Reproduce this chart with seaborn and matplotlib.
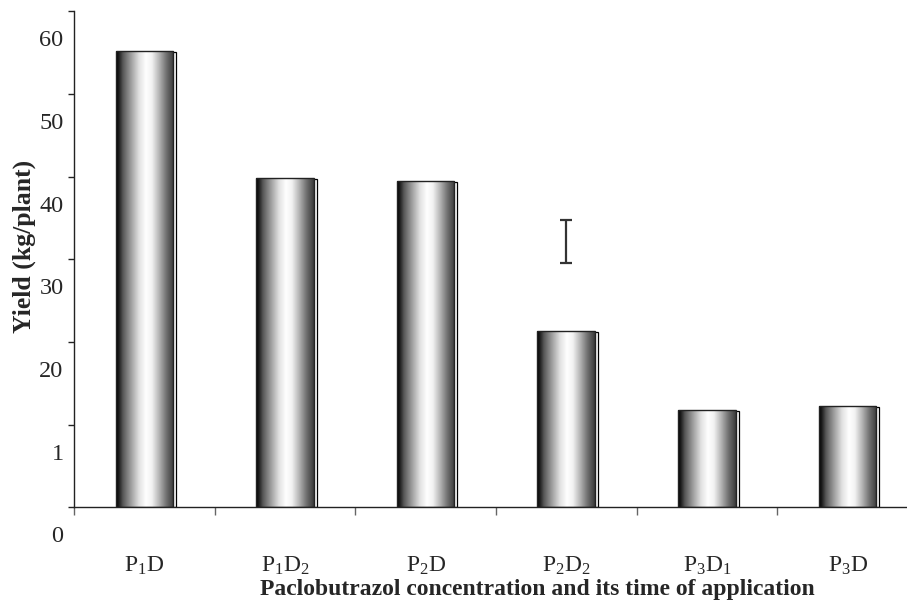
import numpy as np
import pandas as pd
import seaborn as sns
import matplotlib
matplotlib.use("Agg")
import matplotlib.pyplot as plt
from matplotlib.colors import LinearSegmentedColormap
from matplotlib.patches import Rectangle
from matplotlib.transforms import ScaledTranslation

# ---- data ----
categories = [r"P$_{\mathrm{1}}$D", r"P$_{\mathrm{1}}$D$_{\mathrm{2}}$", r"P$_{\mathrm{2}}$D",
              r"P$_{\mathrm{2}}$D$_{\mathrm{2}}$", r"P$_{\mathrm{3}}$D$_{\mathrm{1}}$", r"P$_{\mathrm{3}}$D"]
yield_values = [55.2, 39.9, 39.5, 21.4, 11.8, 12.3]
ytick_values = [0, 10, 20, 30, 40, 50, 60]
ytick_labels = ["0", "1", "20", "30", "40", "50", "60"]
lsd_category = 3          # index of category where the LSD bar is drawn
lsd_low, lsd_high = 29.6, 34.8

sns.set_theme(style="white")
plt.rcParams["font.family"] = ["Liberation Serif", "DejaVu Serif"]
plt.rcParams["mathtext.fontset"] = "custom"
plt.rcParams["mathtext.rm"] = "Liberation Serif"
plt.rcParams["mathtext.it"] = "Liberation Serif:italic"
plt.rcParams["mathtext.bf"] = "Liberation Serif:bold"

fig = plt.figure(figsize=(9.07, 6.11), dpi=100)
ax = fig.add_axes([0.0816, 0.1694, 0.9305, 0.8121])

df = pd.DataFrame({"cat": list(range(len(categories))), "y": yield_values})
sns.barplot(data=df, x="cat", y="y", ax=ax, width=0.41, color="white",
            order=list(range(len(categories))))

cmap = LinearSegmentedColormap.from_list("cyl", [
    (0.0, "#000000"), (0.05, "#1e1e1e"), (0.12, "#585858"), (0.25, "#9a9a9a"),
    (0.40, "#e2e2e2"), (0.52, "#ffffff"), (0.62, "#f2f2f2"), (0.75, "#b2b2b2"),
    (0.88, "#6c6c6c"), (1.0, "#3a3a3a")])
grad = np.linspace(0, 1, 256).reshape(1, -1)

for p in list(ax.patches):
    x0, w, h = p.get_x(), p.get_width(), p.get_height()
    dx = 0.021
    dy = 0.12
    sh = Rectangle((x0 + dx, 0), w, h - dy, facecolor="white", edgecolor="black",
                   linewidth=0.9, zorder=1)
    ax.add_patch(sh)
    im = ax.imshow(grad, cmap=cmap, extent=(x0, x0 + w, 0, h), aspect="auto",
                   zorder=2, interpolation="bilinear")
    im.set_clip_path(p)
    p.set_facecolor("none")
    p.set_edgecolor("#222222")
    p.set_linewidth(1.0)
    p.set_zorder(3)

ax.set_ylim(0, 60)
ax.set_xlim(-0.5, len(categories) - 0.5)

# LSD bar
ax.errorbar([lsd_category], [(lsd_low + lsd_high) / 2], yerr=[(lsd_high - lsd_low) / 2],
            fmt="none", ecolor="#333333", elinewidth=1.6, capsize=4.5, capthick=1.6, zorder=4)

# spines
for s in ["top", "right"]:
    ax.spines[s].set_visible(False)
for s in ["left", "bottom"]:
    ax.spines[s].set_color("#222222")
    ax.spines[s].set_linewidth(1.0)

# y ticks with labels shifted down
ax.set_yticks(ytick_values)
ax.set_yticklabels(ytick_labels, fontsize=17.5)
ax.tick_params(axis="y", direction="out", length=4.5, width=1, color="#222222", pad=3, left=True)
off = ScaledTranslation(0, -27 / 100, fig.dpi_scale_trans)
for lbl in ax.get_yticklabels():
    lbl.set_transform(lbl.get_transform() + off)

# x ticks: major at boundaries, labels at minor (category centres)
ax.set_xticks(np.arange(-0.5, len(categories), 1.0))
ax.set_xticklabels([])
ax.set_xticks(np.arange(len(categories)), minor=True)
ax.set_xticklabels(categories, minor=True, fontsize=17)
ax.tick_params(axis="x", which="major", direction="out", length=6, width=1, color="#666666", bottom=True)
ax.tick_params(axis="x", which="minor", length=0, pad=34, bottom=True)

ax.set_xlabel("Paclobutrazol concentration and its time of application",
              fontsize=17, fontweight="bold")
ax.xaxis.set_label_coords(0.549, -0.166)
ax.xaxis.label.set_verticalalignment("center")
ax.set_ylabel("Yield (kg/plant)", fontsize=18.5, fontweight="bold")
ax.yaxis.set_label_coords(-0.0595, 0.527)
ax.yaxis.label.set_verticalalignment("center")

fig.savefig("out.png", dpi=100)
